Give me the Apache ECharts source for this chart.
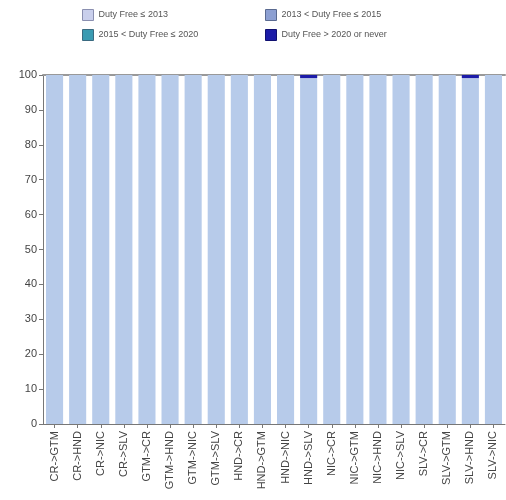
<!DOCTYPE html>
<html><head><meta charset="utf-8">
<script src="https://cdn.jsdelivr.net/npm/echarts@6/dist/echarts.min.js"></script>
<style>html,body{margin:0;padding:0;background:#fff}#c{width:506px;height:500px}</style>
</head><body><div id="c"></div>
<script>
const categories = ["CR->GTM","CR->HND","CR->NIC","CR->SLV","GTM->CR","GTM->HND","GTM->NIC","GTM->SLV","HND->CR","HND->GTM","HND->NIC","HND->SLV","NIC->CR","NIC->GTM","NIC->HND","NIC->SLV","SLV->CR","SLV->GTM","SLV->HND","SLV->NIC"];
const seriesNames = ["Duty Free \u2264 2013","2013 < Duty Free \u2264 2015","2015 < Duty Free \u2264 2020","Duty Free > 2020 or never"];
const s2013 = [100,100,100,100,100,100,100,100,100,100,100,99.1,100,100,100,100,100,100,99.1,100];
const s2015 = [0,0,0,0,0,0,0,0,0,0,0,0,0,0,0,0,0,0,0,0];
const s2020 = [0,0,0,0,0,0,0,0,0,0,0,0,0,0,0,0,0,0,0,0];
const sNever = [0,0,0,0,0,0,0,0,0,0,0,0.9,0,0,0,0,0,0,0.9,0];
const yTicks = [0,10,20,30,40,50,60,70,80,90,100];

const colors = ["#b7cbea","#8c9fd2","#3a9bb2","#1c1ca8"];
const legendColors = ["#c9cfec","#8c9fd2","#3a9bb2","#1c1ca8"];
const values = [s2013,s2015,s2020,sNever];
const font = "Liberation Sans, Arial, sans-serif";

const chart = echarts.init(document.getElementById('c'), null, {renderer:'canvas'});
const legendCommon = {
  orient:'vertical', itemWidth:11, itemHeight:11, itemGap:8, icon:'rect',
  textStyle:{fontFamily:font, fontSize:9, color:'#555'},
  selectedMode:false
};
chart.setOption({
  animation:false,
  color: colors,
  legend:[
    Object.assign({left:77, top:4, data:[{name:seriesNames[0], itemStyle:{color:legendColors[0], borderColor:'#8a8fb0', borderWidth:1}},{name:seriesNames[2], itemStyle:{color:legendColors[2], borderColor:'#3a6a80', borderWidth:1}}]}, legendCommon),
    Object.assign({left:260, top:4, data:[{name:seriesNames[1], itemStyle:{color:legendColors[1], borderColor:'#5a6a90', borderWidth:1}},{name:seriesNames[3], itemStyle:{color:legendColors[3], borderColor:'#101070', borderWidth:1}}]}, legendCommon)
  ],
  grid:{left:43, right:1, top:75, bottom:76},
  xAxis:[{
    type:'category', data:categories,
    axisLine:{lineStyle:{color:'#777', width:1}},
    axisTick:{show:true, alignWithLabel:true, length:4, lineStyle:{color:'#777'}},
    axisLabel:{rotate:90, interval:0, fontFamily:font, fontSize:11, color:'#444', margin:7},
    splitLine:{show:false}
  },{
    type:'category', data:categories, position:'top',
    axisLine:{show:true, lineStyle:{color:'#999', width:2}},
    axisTick:{show:false}, axisLabel:{show:false}
  }],
  yAxis:{
    type:'value', min:0, max:100, interval:10,
    axisLine:{show:true, lineStyle:{color:'#777', width:1}},
    axisTick:{show:true, length:4, lineStyle:{color:'#777'}},
    axisLabel:{fontFamily:font, fontSize:11, color:'#444', margin:6,
      formatter:function(v){return yTicks.indexOf(v)>=0?String(v):'';}},
    splitLine:{show:false}
  },
  series: values.map((d,i)=>({
    name:seriesNames[i], type:'bar', stack:'total', data:d,
    barCategoryGap:'26%', itemStyle:{color:colors[i]}
  }))
});
</script></body></html>
